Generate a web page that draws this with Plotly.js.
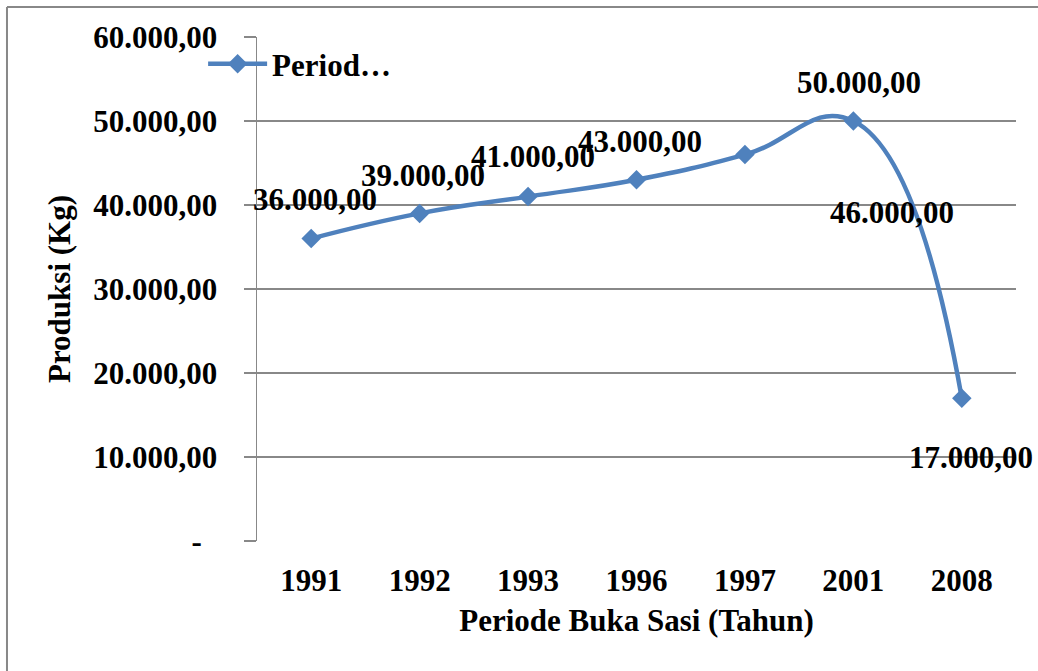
<!DOCTYPE html>
<html>
<head>
<meta charset="utf-8">
<script src="https://cdn.plot.ly/plotly-3.0.1.min.js"></script>
<style>
html,body{margin:0;padding:0;background:#fff;}
#chart{width:1038px;height:671px;}
</style>
</head>
<body>
<div id="chart"></div>
<script>
// ---- data ----
var years = ["1991", "1992", "1993", "1996", "1997", "2001", "2008"];
var produksi = [36000, 39000, 41000, 43000, 46000, 50000, 17000];
var dataLabels = ["36.000,00", "39.000,00", "41.000,00", "43.000,00", "46.000,00", "50.000,00", "17.000,00"];
var yTickVals = [0, 10000, 20000, 30000, 40000, 50000, 60000];
var seriesName = "Period\u2026";

// ---- label placement (pixel offsets) ----
var labelShift = [[4, 39], [3, 38], [5, 40], [3, 38], [147, -58], [6, 39], [9, -59]];

function fmt(v) {
  if (v === 0) return "-\u2007";
  var s = Math.round(v).toString().replace(/\B(?=(\d{3})+(?!\d))/g, ".");
  return s + ",00";
}
var yTickText = yTickVals.map(fmt);

var font = "Liberation Serif, Times New Roman, serif";
var blue = "#4F81BD";
var grey = "#888888";

var trace = {
  x: years,
  y: produksi,
  type: "scatter",
  mode: "lines+markers",
  name: seriesName,
  line: {color: blue, width: 4.5, shape: "spline", smoothing: 1.3},
  marker: {symbol: "diamond", size: 15, color: blue},
  hoverinfo: "x+y"
};

var annotations = years.map(function (yr, i) {
  return {
    x: i, y: produksi[i], xref: "x", yref: "y",
    text: "<b>" + dataLabels[i] + "</b>",
    showarrow: false,
    xshift: labelShift[i][0], yshift: labelShift[i][1],
    font: {family: font, size: 31, color: "#000"}
  };
});

var layout = {
  width: 1038, height: 671,
  margin: {l: 257, r: 22, t: 37, b: 130, pad: 0},
  paper_bgcolor: "#fff",
  plot_bgcolor: "#fff",
  font: {family: font, size: 31, color: "#000"},
  showlegend: true,
  legend: {
    x: -0.071, y: 0.946, xanchor: "left", yanchor: "middle",
    bgcolor: "rgba(0,0,0,0)",
    itemwidth: 59,
    font: {family: font, size: 31, color: "#000", weight: "bold"}
  },
  xaxis: {
    type: "category",
    range: [-0.5, 6.5],
    showgrid: false,
    showline: false,
    zeroline: false,
    ticks: "",
    ticklabelstandoff: 18,
    tickfont: {family: font, size: 31, color: "#000", weight: "bold"},
    title: {text: "<b>Periode Buka Sasi (Tahun)</b>", font: {family: font, size: 31, color: "#000"}, standoff: 12}
  },
  yaxis: {
    range: [0, 60000],
    tickvals: yTickVals,
    ticktext: yTickText,
    showgrid: true,
    gridcolor: grey,
    gridwidth: 1.5,
    showline: true,
    linecolor: grey,
    linewidth: 1.5,
    zeroline: false,
    ticks: "outside",
    ticklen: 12,
    tickcolor: grey,
    tickwidth: 1.5,
    ticklabelstandoff: 20,
    tickfont: {family: font, size: 31, color: "#000", weight: "bold"},
    title: {text: "<b>Produksi (Kg)</b>", font: {family: font, size: 31, color: "#000"}, standoff: 13}
  },
  annotations: annotations,
  shapes: [
    {type: "line", xref: "paper", yref: "paper", x0: -0.3294, x1: 1.04, y0: 1.0595, y1: 1.0595,
     line: {color: grey, width: 2}},
    {type: "line", xref: "paper", yref: "paper", x0: -0.3294, x1: -0.3294, y0: 1.0595, y1: -0.28,
     line: {color: grey, width: 2}}
  ]
};

Plotly.newPlot("chart", [trace], layout, {displayModeBar: false, staticPlot: true});
</script>
</body>
</html>
